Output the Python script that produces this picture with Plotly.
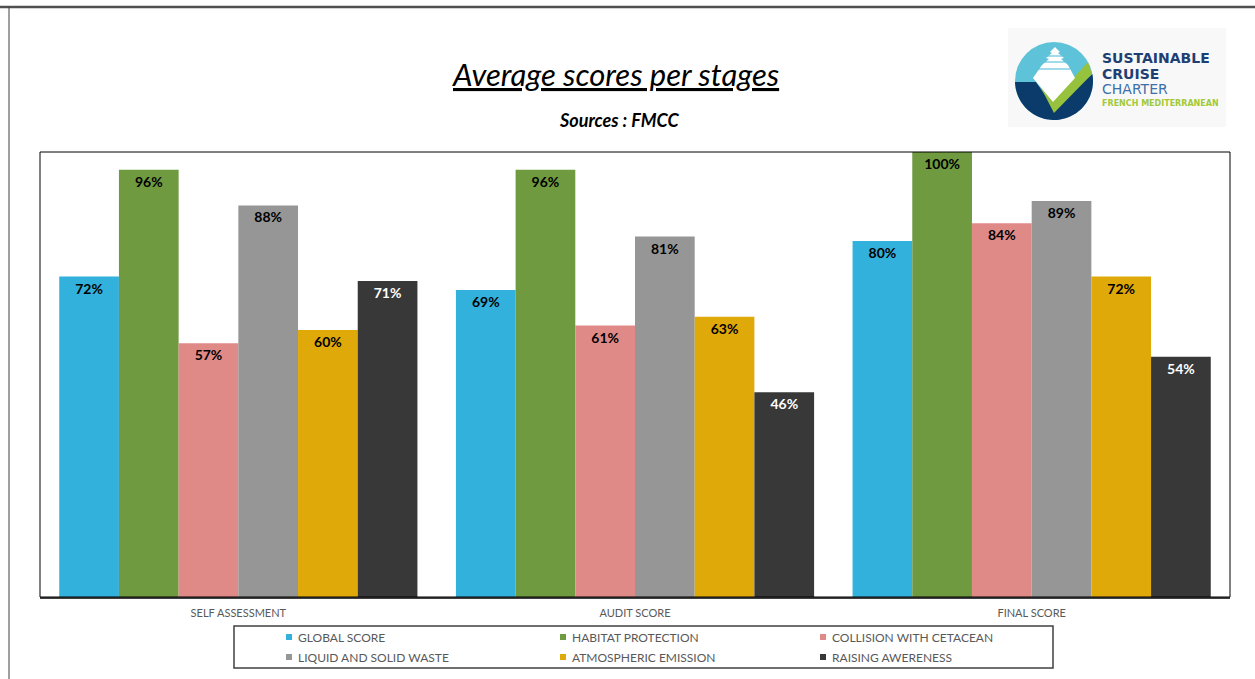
import numpy as np
import plotly.graph_objects as go

# ---------------- data ----------------
stages = ["SELF ASSESSMENT", "AUDIT SCORE", "FINAL SCORE"]
series_names = ["GLOBAL SCORE", "HABITAT PROTECTION", "COLLISION WITH CETACEAN",
                "LIQUID AND SOLID WASTE", "ATMOSPHERIC EMISSION", "RAISING AWERENESS"]
global_score = [72, 69, 80]
habitat_protection = [96, 96, 100]
collision_cetacean = [57, 61, 84]
liquid_solid_waste = [88, 81, 89]
atmospheric_emission = [60, 63, 72]
raising_awareness = [71, 46, 54]

series_values = [global_score, habitat_protection, collision_cetacean,
                 liquid_solid_waste, atmospheric_emission, raising_awareness]
colors = ["#33B1DD", "#6F9A3F", "#E08A88", "#969696", "#E0A90A", "#393838"]
text_colors = ["#000000"] * 5 + ["#FFFFFF"]

W, H = 1255, 679
L, R, T, B = 40, 25, 152, 82
PW, PH = W - L - R, H - T - B


def px(x):
    return (x - L) / PW


def py(y):
    return (H - B - y) / PH


FONT = "Lato"

fig = go.Figure()
for i, (name, vals) in enumerate(zip(series_names, series_values)):
    fig.add_trace(go.Bar(
        x=stages, y=vals, name=name,
        marker=dict(color=colors[i], line=dict(width=0)),
        texttemplate="<b>%{y}%</b>",
        textposition="inside", insidetextanchor="end", textangle=0,
        textfont=dict(size=14, color=text_colors[i], family=FONT),
        showlegend=False,
    ))

shapes = []
annotations = []
# outer frame lines
shapes.append(dict(type="line", xref="paper", yref="paper", x0=px(0), x1=px(W), y0=py(7), y1=py(7),
                   line=dict(color="#505050", width=2.5)))
shapes.append(dict(type="line", xref="paper", yref="paper", x0=px(9), x1=px(9), y0=py(7), y1=py(H),
                   line=dict(color="#404040", width=1)))
# plot box
shapes.append(dict(type="rect", xref="paper", yref="paper", x0=0, x1=1, y0=0, y1=1,
                   line=dict(color="#000000", width=1)))

# ---------- legend (two rows of three) ----------
shapes.append(dict(type="rect", xref="paper", yref="paper", x0=px(234), x1=px(1053), y0=py(626), y1=py(668),
                   line=dict(color="#404040", width=1.5)))
col_x = [289, 563, 823]
row_y = [637, 657]
for i, name in enumerate(series_names):
    cxl = col_x[i % 3]
    cyl = row_y[i // 3]
    shapes.append(dict(type="rect", xref="paper", yref="paper",
                       x0=px(cxl - 3), x1=px(cxl + 3), y0=py(cyl - 3), y1=py(cyl + 3),
                       fillcolor=colors[i], line=dict(width=0)))
    annotations.append(dict(text=name, x=px(cxl + 7), y=py(cyl), xref="paper", yref="paper",
                            showarrow=False, xanchor="left", yanchor="middle",
                            font=dict(size=12, color="#595959", family=FONT)))

# ---------- logo ----------
shapes.append(dict(type="rect", xref="paper", yref="paper", x0=px(1008), x1=px(1226), y0=py(28), y1=py(127),
                   fillcolor="#F8F8F8", line=dict(width=0), layer="below"))
cx, cy, r = 1054, 81, 39
shapes.append(dict(type="circle", xref="paper", yref="paper", x0=px(cx - r), x1=px(cx + r),
                   y0=py(cy - r), y1=py(cy + r), fillcolor="#5EC3D8", line=dict(width=0)))


def path_from(points):
    return "M" + " L".join(f"{px(a):.5f},{py(b):.5f}" for a, b in points) + " Z"


ang = np.linspace(np.arcsin((74 - cy) / r), np.pi - np.arcsin((82 - cy) / r), 60)
navy = [(cx + r * np.cos(a), cy + r * np.sin(a)) for a in ang] + [(1036, 82), (1054, 108)]
shapes.append(dict(type="path", xref="paper", yref="paper", path=path_from(navy),
                   fillcolor="#0B3B6B", line=dict(width=0)))
green = [(1036, 80), (1053, 100), (1088, 62), (1092, 74), (1054, 113), (1039, 84)]
shapes.append(dict(type="path", xref="paper", yref="paper", path=path_from(green),
                   fillcolor="#97C23D", line=dict(width=0)))
ship = [(1055, 47), (1060, 52), (1058, 53), (1064, 58), (1061, 59), (1068, 65), (1075, 78),
        (1053, 102), (1033, 78), (1042, 65), (1049, 59), (1046, 58), (1052, 53), (1050, 52)]
shapes.append(dict(type="path", xref="paper", yref="paper", path=path_from(ship),
                   fillcolor="#FFFFFF", line=dict(width=0)))
for yy, hw in ((56, 8), (62, 11), (69, 16)):
    shapes.append(dict(type="line", xref="paper", yref="paper", x0=px(1054 - hw), x1=px(1054 + hw),
                       y0=py(yy), y1=py(yy), line=dict(color="#5EC3D8", width=1.2)))

annotations += [
    dict(text="<i><u>Average scores per stages</u></i>", x=px(615), y=py(74), xref="paper", yref="paper",
         showarrow=False, font=dict(size=31, color="#000000", family=FONT), xanchor="center", yanchor="middle"),
    dict(text="<b><i>Sources : FMCC</i></b>", x=px(619), y=py(120), xref="paper", yref="paper",
         showarrow=False, font=dict(size=18, color="#000000", family=FONT), xanchor="center", yanchor="middle"),
]
logo_lines = [("<b>SUSTAINABLE</b>", 57.5, 14, "#1F3F73", 16),
              ("<b>CRUISE</b>", 73.5, 14, "#1F3F73", 16),
              ("CHARTER", 89, 14, "#3E6FA8", 14),
              ("<b>FRENCH MEDITERRANEAN</b>", 102.5, 8, "#A2C93A", 8)]
for txt, yy, fs, col, hh in logo_lines:
    annotations.append(dict(text=txt, x=px(1101), y=py(yy), xref="paper", yref="paper",
                            showarrow=False, xanchor="left", yanchor="middle", height=hh, borderpad=0,
                            valign="middle", font=dict(size=fs, color=col, family="DejaVu Sans")))

fig.update_layout(
    width=W, height=H, autosize=False,
    margin=dict(l=L, r=R, t=T, b=B, pad=0),
    paper_bgcolor="#FFFFFF", plot_bgcolor="#FFFFFF",
    barmode="group", bargap=0.097, bargroupgap=0,
    xaxis=dict(showline=True, linecolor="#404040", linewidth=2, ticks="", showgrid=False,
               ticklabelstandoff=5, automargin=False,
               tickfont=dict(size=11, color="#595959", family=FONT), fixedrange=True),
    yaxis=dict(range=[0, 100], visible=False, showgrid=False, fixedrange=True, automargin=False),
    shapes=shapes, annotations=annotations,
    showlegend=False,
)

fig.write_html("out.html", config={"displayModeBar": False},
               post_script="document.body.style.margin='0px';document.body.style.overflow='hidden';")
